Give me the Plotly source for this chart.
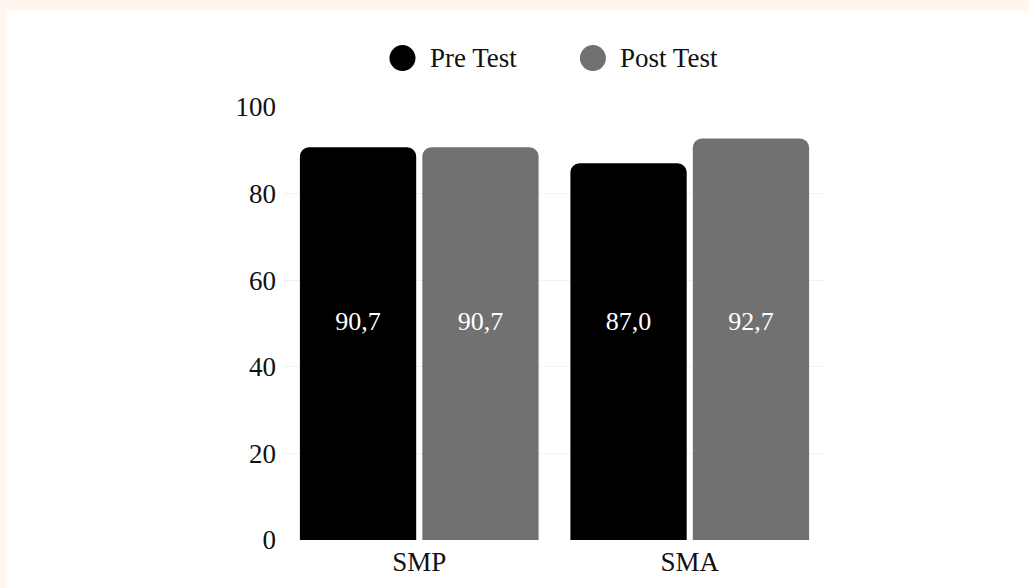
import plotly.graph_objects as go

categories = ["SMP", "SMA"]
series_names = ["Pre Test", "Post Test"]
pre_test = [90.7, 87.0]
post_test = [90.7, 92.7]
series_values = [pre_test, post_test]
series_colors = ["#000000", "#717171"]
y_ticks = [0, 20, 40, 60, 80, 100]
y_max = 100

FONT = "Liberation Serif, Times New Roman, serif"
TXT = 27

fig = go.Figure()
for name, vals, col in zip(series_names, series_values, series_colors):
    fig.add_trace(go.Bar(
        x=categories, y=vals, name=name,
        marker=dict(color=col, line=dict(width=0), cornerradius=9),
        showlegend=False, hoverinfo="x+y",
    ))
# value labels, all drawn at mid-height of the axis like the reference
for name, vals in zip(series_names, series_values):
    fig.add_trace(go.Scatter(
        x=categories, y=[y_max / 2] * len(vals), mode="text",
        text=[f"{v:.1f}".replace(".", ",") for v in vals],
        textposition="middle center",
        textfont=dict(family=FONT, size=26, color="white"),
        showlegend=False, hoverinfo="skip", name=name,
    ))

legend_x = [0.219, 0.571]  # paper x of circle centres
shapes = [
    dict(type="rect", xref="paper", yref="paper", x0=-0.6, x1=1.5, y0=1.2217, y1=1.3,
         fillcolor="#FFF6EE", line=dict(width=0), layer="above"),
    dict(type="rect", xref="paper", yref="paper", x0=-0.6, x1=-0.5125, y0=-0.2, y1=1.3,
         fillcolor="#FFF6EE", line=dict(width=0), layer="above"),
]
annotations = []
for name, col, lx in zip(series_names, series_colors, legend_x):
    shapes.append(dict(type="circle", xref="paper", yref="paper",
                       xsizemode="pixel", ysizemode="pixel",
                       xanchor=lx, yanchor=1.113, x0=-13, x1=13, y0=-13, y1=13,
                       fillcolor=col, line=dict(width=0)))
    annotations.append(dict(text=name, xref="paper", yref="paper",
                            x=lx + 0.047, y=1.113, xanchor="left", yanchor="middle",
                            showarrow=False,
                            font=dict(family=FONT, size=TXT, color="#111111")))

fig.update_layout(
    width=1029, height=588,
    margin=dict(l=283.5, r=203.5, t=107, b=48, pad=0),
    paper_bgcolor="white", plot_bgcolor="white",
    barmode="group", bargap=0.095, bargroupgap=0.05,
    scattermode="group", scattergap=0.095,
    font=dict(family=FONT, size=TXT, color="#111111"),
    shapes=shapes, annotations=annotations,
    showlegend=False,
    xaxis=dict(showgrid=False, showline=False, zeroline=False, ticks="",
               ticklabelstandoff=3,
               tickfont=dict(family=FONT, size=TXT, color="#111111")),
    yaxis=dict(range=[0, y_max], tickvals=y_ticks, showgrid=True, gridcolor="#F2F2F2",
               gridwidth=1, zeroline=False, showline=False, ticks="",
               ticklabelstandoff=7,
               tickfont=dict(family=FONT, size=TXT, color="#111111")),
)

fig.write_html("out.html", config={"displayModeBar": False},
               post_script="document.body.style.margin='0';document.body.style.overflow='hidden';")
